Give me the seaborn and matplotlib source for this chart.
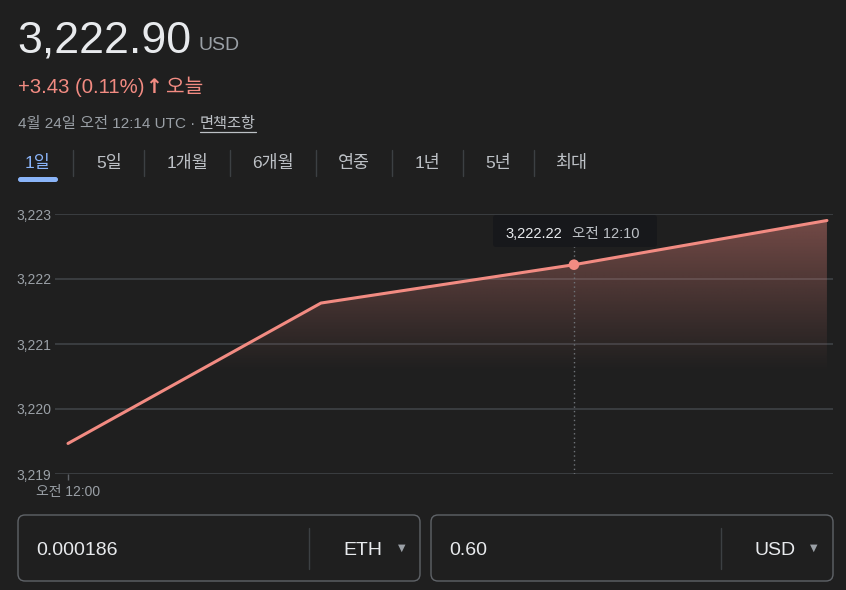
import numpy as np
import pandas as pd
import matplotlib
matplotlib.use("Agg")
import matplotlib.pyplot as plt
import matplotlib.transforms as mtrans
from matplotlib.patches import FancyBboxPatch
from matplotlib.colors import to_rgb
import seaborn as sns

# ---- data -------------------------------------------------------------
minutes = [0, 5, 10, 15]                       # minutes after 오전 12:00
prices = [3219.47, 3221.63, 3222.22, 3222.90]  # ETH price in USD
y_ticks = [3219, 3220, 3221, 3222, 3223]
x_tick_labels = ["오전 12:00"]
hover_minute = 10
hover_price = 3222.22
hover_time = "오전 12:10"
last_price = 3222.90
change_abs = 3.43
change_pct = 0.11
tab_labels = ["1일", "5일", "1개월", "6개월", "연중", "1년", "5년", "최대"]
amount_eth = "0.000186"
amount_usd = "0.60"

# ---- style ------------------------------------------------------------
BG = "#1f1f1f"
GRID = "#3c4043"
LINE = "#f28b82"
TEXT = "#e8eaed"
MUTED = "#9aa0a6"
BLUE = "#8ab4f8"

sns.set_theme(style="dark", rc={"figure.facecolor": BG, "axes.facecolor": BG,
                                "savefig.facecolor": BG})
FONTS = ["Liberation Sans", "Noto Sans CJK KR", "DejaVu Sans"]
plt.rcParams["font.family"] = FONTS

W, H = 846, 590
fig = plt.figure(figsize=(W / 100, H / 100), dpi=100)
# pixel coordinates measured from the top-left corner
PX = mtrans.Affine2D().scale(1 / W, -1 / H).translate(0, 1) + fig.transFigure

# ---- chart ------------------------------------------------------------
ax = fig.add_axes([55 / W, (H - 474) / H, 778 / W, 260 / H])
df = pd.DataFrame({"minute": minutes, "price": prices})

x0, x1 = -0.257, 15.12
ax.set_xlim(x0, x1)
ax.set_ylim(y_ticks[0], y_ticks[-1])

# gradient fill under the line
poly = ax.fill_between(df["minute"], df["price"], y_ticks[0], alpha=0)
yy = np.linspace(y_ticks[0], y_ticks[-1], 256)
alpha = np.clip((yy - 3220.55) / (y_ticks[-1] - 3220.55), 0, 1) ** 1.1 * 0.42
grad = np.zeros((256, 2, 4))
grad[..., :3] = to_rgb(LINE)
grad[..., 3] = alpha[:, None]
im = ax.imshow(grad, extent=[x0, x1, y_ticks[0], y_ticks[-1]], origin="lower",
               aspect="auto", zorder=1, interpolation="bilinear")
im.set_clip_path(poly.get_paths()[0], transform=ax.transData)

sns.lineplot(data=df, x="minute", y="price", color=LINE, linewidth=2.2,
             ax=ax, zorder=4)

# hover guide
ax.plot([hover_minute, hover_minute], [y_ticks[0], y_ticks[-1]],
        ls=(0, (1, 2.2)), color="#6f7378", lw=1, zorder=3)
ax.scatter([hover_minute], [hover_price], s=58, color=LINE, zorder=6,
           edgecolors="none")

ax.set_yticks(y_ticks)
ax.set_yticklabels([f"{v:,}" for v in y_ticks])
ax.set_xticks([minutes[0]])
ax.set_xticklabels(x_tick_labels)
ax.tick_params(axis="y", length=0, pad=2.5, labelsize=10, labelcolor=MUTED)
ax.tick_params(axis="x", length=4, width=1, color="#5f6368", pad=4,
               labelsize=10, labelcolor=MUTED, bottom=True)
ax.grid(axis="y", color=GRID, lw=1.3)
ax.grid(axis="x", visible=False)
for s in ax.spines.values():
    s.set_visible(False)
ax.set_xlabel("")
ax.set_ylabel("")

# tooltip
tip = FancyBboxPatch((493, 215), 164, 32, boxstyle="round,pad=0,rounding_size=3",
                     transform=PX, facecolor="#17181b", edgecolor="none",
                     zorder=7, clip_on=False)
fig.add_artist(tip)
fig.text(505, 238, f"{hover_price:,.2f}", transform=PX, color=TEXT,
         fontsize=10.5, va="baseline", zorder=8)
fig.text(572, 238, hover_time, transform=PX, color="#bdc1c6",
         fontsize=10.5, va="baseline", zorder=8)

# ---- header -----------------------------------------------------------
fig.text(17, 52, f"{last_price:,.2f}", transform=PX, color=TEXT,
         fontsize=32.2, va="baseline")
fig.text(199, 50, "USD", transform=PX, color=MUTED, fontsize=14,
         va="baseline")
fig.text(18, 93, f"+{change_abs:.2f} ({change_pct:.2f}%)", transform=PX,
         color=LINE, fontsize=14.6, va="baseline")
fig.text(145, 93, "\u2191", transform=PX, color=LINE, fontsize=14.6,
         fontweight="bold", va="baseline", family=["DejaVu Sans"])
fig.text(166, 93, "오늘", transform=PX, color=LINE, fontsize=14.6,
         va="baseline")
date_txt = fig.text(18, 128, "4월 24일 오전 12:14 UTC · ", transform=PX,
                    color=MUTED, fontsize=11, va="baseline")

# tabs
tab_centers = [38, 109, 188, 273, 354, 428, 498, 571]
tab_seps = [73, 144, 230, 316, 392, 463, 534]
for i, (lab, cx) in enumerate(zip(tab_labels, tab_centers)):
    fig.text(cx, 168, lab, transform=PX, ha="center", va="baseline",
             fontsize=12.5, color=BLUE if i == 0 else "#bdc1c6")
for sx in tab_seps:
    fig.add_artist(plt.Line2D([sx, sx], [150, 176], transform=PX,
                              color=GRID, lw=1))
fig.add_artist(FancyBboxPatch((18, 177), 40, 5,
                              boxstyle="round,pad=0,rounding_size=2.5",
                              transform=PX, facecolor=BLUE, edgecolor="none"))

# ---- converter boxes --------------------------------------------------
for bx, value, unit, sep, ux, ax_ in [(18, amount_eth, "ETH", 309, 343, 402),
                                      (431, amount_usd, "USD", 721, 754, 814)]:
    fig.add_artist(FancyBboxPatch((bx, 515), 402, 66,
                                  boxstyle="round,pad=0,rounding_size=7",
                                  transform=PX, facecolor=BG,
                                  edgecolor="#5f6368", lw=1))
    fig.add_artist(plt.Line2D([sep, sep], [528, 569], transform=PX,
                              color=GRID, lw=1))
    fig.text(bx + 18, 555, value, transform=PX, color=TEXT, fontsize=14,
             va="baseline")
    fig.text(ux, 555, unit, transform=PX, color=TEXT, fontsize=14,
             va="baseline")
    fig.text(ax_, 548, "\u25bc", transform=PX, color=MUTED, fontsize=7,
             ha="center", va="center", family=["DejaVu Sans"])

# disclaimer link placed right after the date, underlined
fig.canvas.draw()
db = date_txt.get_window_extent()
disc = fig.text(db.x1, 128, "면책조항", transform=PX, color="#bdc1c6",
                fontsize=11, va="baseline")
fig.canvas.draw()
bb = disc.get_window_extent()
uy = H - bb.y0 + 1
fig.add_artist(plt.Line2D([bb.x0, bb.x1], [uy, uy], transform=PX,
                          color="#bdc1c6", lw=0.9))

fig.savefig("out.png", dpi=100, facecolor=BG)
